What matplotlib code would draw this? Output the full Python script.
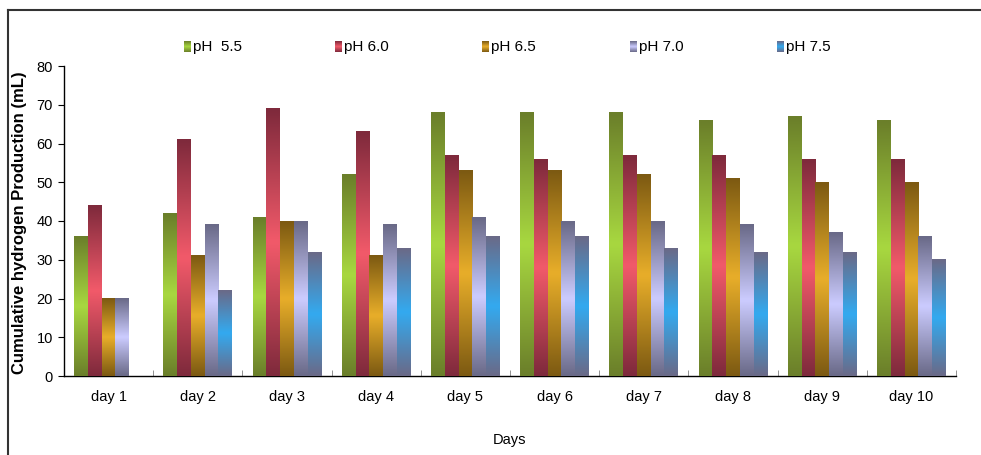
import numpy as np
import matplotlib.pyplot as plt
from matplotlib.colors import to_rgb
from matplotlib.lines import Line2D

plt.rcParams['font.family'] = ['Liberation Sans', 'DejaVu Sans']

days = ['day 1', 'day 2', 'day 3', 'day 4', 'day 5',
        'day 6', 'day 7', 'day 8', 'day 9', 'day 10']
series_names = ['pH  5.5', 'pH 6.0', 'pH 6.5', 'pH 7.0', 'pH 7.5']

ph55 = [36, 42, 41, 52, 68, 68, 68, 66, 67, 66]
ph60 = [44, 61, 69, 63, 57, 56, 57, 57, 56, 56]
ph65 = [20, 31, 40, 31, 53, 53, 52, 51, 50, 50]
ph70 = [20, 39, 40, 39, 41, 40, 40, 39, 37, 36]
ph75 = [0, 22, 32, 33, 36, 36, 33, 32, 32, 30]
values = [ph55, ph60, ph65, ph70, ph75]

# (edge colour, centre colour) for the bar gradients
shades = [('#6b7f2a', '#a8d840'),
          ('#7f2a3c', '#f25a6a'),
          ('#7d5a12', '#e8ae2a'),
          ('#6a6a88', '#ccccff'),
          ('#6a6a88', '#33aaf0')]


def gradient(edge, centre, n=64):
    t = np.linspace(0, 1, n)
    w = 1 - np.abs(2 * t - 1)
    e = np.array(to_rgb(edge))
    c = np.array(to_rgb(centre))
    col = e[None, :] * (1 - w[:, None]) + c[None, :] * w[:, None]
    return col[:, None, :]


fig = plt.figure(figsize=(9.81, 4.55), dpi=100)
ax = fig.add_axes([64 / 981, 1 - 376 / 455, 892 / 981, 310 / 455])

x = np.arange(len(days))
bw = 0.154
for i, vals in enumerate(values):
    bars = ax.bar(x + (i - 2) * bw, vals, bw, color=shades[i][0],
                  edgecolor='none', zorder=2)
    img = gradient(*shades[i])
    for b in bars:
        if b.get_height() <= 0:
            continue
        ax.imshow(img, extent=[b.get_x(), b.get_x() + b.get_width(), 0, b.get_height()],
                  aspect='auto', origin='lower', zorder=3, interpolation='bilinear')

ax.set_xlim(-0.5, len(days) - 0.5)
ax.set_ylim(0, 80)
ax.set_yticks(range(0, 81, 10))
ax.set_xticks(x)
ax.set_xticklabels(days, fontsize=10.5)
ax.set_xticks(np.arange(-0.5, len(days)), minor=True)
ax.tick_params(axis='x', which='major', length=0, pad=10)
ax.tick_params(axis='x', which='minor', direction='in', length=4, color='#808080')
ax.tick_params(axis='y', direction='out', length=4, labelsize=10.5, pad=4)
for s in ['top', 'right']:
    ax.spines[s].set_visible(False)
ax.spines['left'].set_linewidth(1)
ax.spines['bottom'].set_linewidth(1)

ax.set_ylabel('Cumulative hydrogen Production (mL)', fontsize=12, fontweight='bold')
ax.yaxis.set_label_coords(-0.041, 0.494)
fig.text(510 / 981, 1 - 440 / 455, 'Days', ha='center', va='center', fontsize=10.5)

# legend row across the top
legend_x = [184, 335, 482, 630, 777]
for i, name in enumerate(series_names):
    lx = fig.add_axes([legend_x[i] / 981, 1 - 52 / 455, 7 / 981, 11 / 455])
    lx.imshow(gradient(*shades[i]), aspect='auto', origin='lower', interpolation='bilinear')
    lx.axis('off')
    fig.text((legend_x[i] + 9) / 981, 1 - 47 / 455, name, ha='left', va='center', fontsize=11)

# outer frame
fig.add_artist(Line2D([8 / 981, 8 / 981], [0, 1 - 10 / 455], color='#333333', lw=1.5))
fig.add_artist(Line2D([8 / 981, 1], [1 - 10 / 455, 1 - 10 / 455], color='#333333', lw=1.5))

fig.savefig('out.png', dpi=100)
